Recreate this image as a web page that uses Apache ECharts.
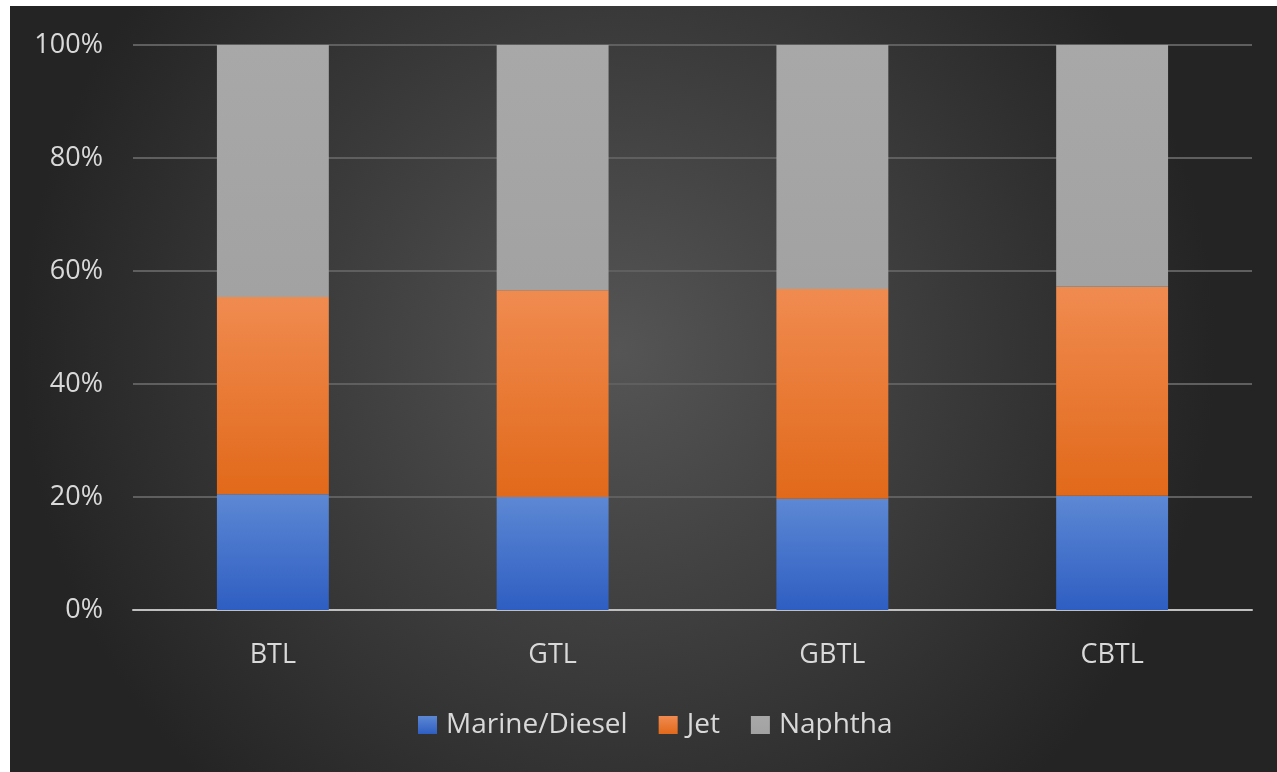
<!DOCTYPE html>
<html>
<head>
<meta charset="utf-8">
<script src="https://cdn.jsdelivr.net/npm/echarts@6/dist/echarts.min.js"></script>
<style>
html,body{margin:0;padding:0;background:#ffffff;width:1277px;height:772px;overflow:hidden;}
#c{position:absolute;left:10px;top:6px;width:1267px;height:766px;}
</style>
</head>
<body>
<div id="c"></div>
<script>
const categories = ['BTL', 'GTL', 'GBTL', 'CBTL'];
const marineDiesel = [20.5, 20.0, 19.7, 20.2];
const jet = [34.9, 36.6, 37.1, 37.0];
const naphtha = [44.6, 43.4, 43.2, 42.8];
const yTicks = [0, 20, 40, 60, 80, 100];

function grad(top, bottom) {
  return new echarts.graphic.LinearGradient(0, 0, 0, 1, [
    { offset: 0, color: top }, { offset: 1, color: bottom }
  ]);
}

const chart = echarts.init(document.getElementById('c'));
const font = "'Open Sans', 'Noto Sans', sans-serif";
chart.setOption({
  animation: false,
  backgroundColor: {
    type: 'radial', x: 0.48, y: 0.45, r: 0.78,
    colorStops: [{ offset: 0, color: '#555555' }, { offset: 1, color: '#242424' }]
  },
  textStyle: { fontFamily: font },
  grid: { left: 123, right: 25, top: 39, bottom: 162 },
  legend: {
    bottom: 28, left: 403,
    itemWidth: 19, itemHeight: 18, itemGap: 31,
    icon: 'rect',
    textStyle: { color: '#d9d9d9', fontSize: 28, fontFamily: font, padding: [0, 0, 0, 4] },
    data: ['Marine/Diesel', 'Jet', 'Naphtha']
  },
  xAxis: {
    type: 'category', data: categories,
    axisLine: { lineStyle: { color: '#bfbfbf', width: 2 } },
    axisTick: { show: false },
    axisLabel: { color: '#d9d9d9', fontSize: 27, margin: 32, fontFamily: font }
  },
  yAxis: {
    type: 'value', min: 0, max: 100, interval: 20,
    axisLabel: { color: '#d9d9d9', fontSize: 27, margin: 30, fontFamily: font,
      formatter: v => yTicks.includes(v) ? v + '%' : '' },
    splitLine: { lineStyle: { color: '#5f5f5f', width: 2 } },
    axisLine: { show: false }, axisTick: { show: false }
  },
  series: [
    { name: 'Marine/Diesel', type: 'bar', stack: 's', barWidth: '40%', data: marineDiesel,
      itemStyle: { color: grad('#5d88d4', '#2e5ec2') } },
    { name: 'Jet', type: 'bar', stack: 's', data: jet,
      itemStyle: { color: grad('#f08b50', '#e1691a') } },
    { name: 'Naphtha', type: 'bar', stack: 's', data: naphtha,
      itemStyle: { color: grad('#a8a8a8', '#a2a2a2') } }
  ]
});
</script>
</body>
</html>
